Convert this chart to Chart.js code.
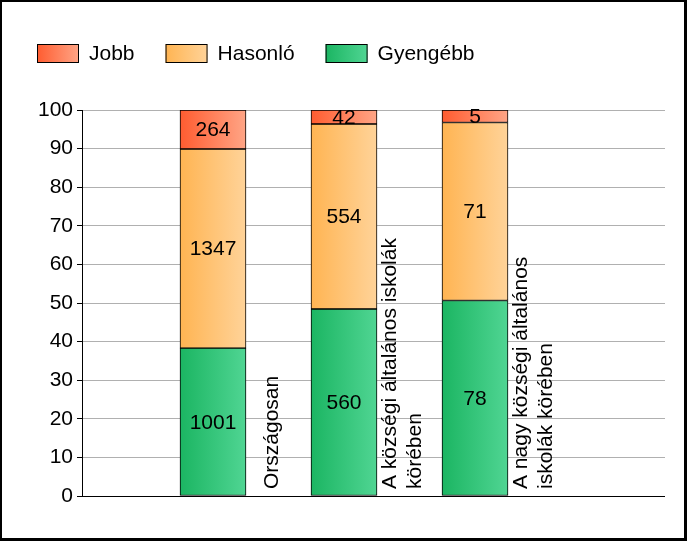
<!DOCTYPE html>
<html>
<head>
<meta charset="utf-8">
<script src="https://cdn.jsdelivr.net/npm/chart.js@4.4.1/dist/chart.umd.min.js"></script>
<style>
  html, body { margin: 0; padding: 0; background: #fff; }
  #wrap { width: 687px; height: 541px; }
</style>
</head>
<body>
<div id="wrap"><canvas id="chart" width="687" height="541"></canvas></div>
<script>
const categories = [
  ["Országosan"],
  ["A községi általános iskolák", "körében"],
  ["A nagy községi általános", "iskolák körében"],
];
const seriesNames = ["Jobb", "Hasonló", "Gyengébb"];
const jobb = [264, 42, 5];
const hasonlo = [1347, 554, 71];
const gyengebb = [1001, 560, 78];
const yMin = 0;
const yMax = 100;
const yStep = 10;

const gradients = {
  Jobb: ["#ff5c30", "#ffa586"],
  Hasonló: ["#ffb452", "#ffd399"],
  Gyengébb: ["#1bb562", "#50d593"],
};

const FONT = '"Liberation Sans", Arial, sans-serif';
const BAR_W = 66;

const totals = categories.map((_, i) => jobb[i] + hasonlo[i] + gyengebb[i]);

function toPoints(counts) {
  return counts.map((v, i) => ({ x: i + 1, y: (v / totals[i]) * 100 }));
}

function barGradient(name) {
  return function (ctx) {
    const chart = ctx.chart;
    const xs = chart.scales.x;
    if (!xs || !chart.chartArea) return gradients[name][0];
    const cx = xs.getPixelForValue(ctx.dataIndex + 1);
    const g = chart.ctx.createLinearGradient(cx - BAR_W / 2, 0, cx + BAR_W / 2, 0);
    g.addColorStop(0, gradients[name][0]);
    g.addColorStop(1, gradients[name][1]);
    return g;
  };
}

function makeDataset(name, counts) {
  return {
    label: name,
    data: toPoints(counts),
    counts: counts,
    backgroundColor: barGradient(name),
    borderColor: "#000",
    borderWidth: 1,
    borderSkipped: false,
    barThickness: BAR_W,
  };
}

const framePlugin = {
  id: "frame",
  beforeDraw(chart) {
    const c = chart.ctx;
    c.save();
    c.fillStyle = "#fff";
    c.fillRect(0, 0, chart.width, chart.height);
    c.restore();
  },
  afterDraw(chart) {
    const c = chart.ctx;
    c.save();
    c.fillStyle = "#000";
    c.fillRect(0, 0, chart.width, 2);
    c.fillRect(0, 0, 2, chart.height);
    c.fillRect(chart.width - 3, 0, 3, chart.height);
    c.fillRect(0, chart.height - 3, chart.width, 3);
    c.restore();
  },
};

const legendPlugin = {
  id: "gradLegend",
  afterDraw(chart) {
    const c = chart.ctx;
    c.save();
    c.font = "21px " + FONT;
    c.textBaseline = "middle";
    c.textAlign = "left";
    let x = 37;
    const top = 44;
    const h = 19;
    seriesNames.forEach((name) => {
      const g = c.createLinearGradient(x, 0, x + 42, 0);
      g.addColorStop(0, gradients[name][0]);
      g.addColorStop(1, gradients[name][1]);
      c.fillStyle = g;
      c.fillRect(x, top, 42, h);
      c.strokeStyle = "#000";
      c.lineWidth = 1;
      c.strokeRect(x + 0.5, top + 0.5, 41, h - 1);
      c.fillStyle = "#000";
      c.fillText(name, x + 52, top + h / 2 + 1);
      x += 52 + c.measureText(name).width + 31;
    });
    c.restore();
  },
};

const labelsPlugin = {
  id: "barLabels",
  afterDatasetsDraw(chart) {
    const c = chart.ctx;
    c.save();
    c.font = "21px " + FONT;
    c.fillStyle = "#000";
    c.textAlign = "center";
    c.textBaseline = "middle";
    chart.data.datasets.forEach((ds, di) => {
      const meta = chart.getDatasetMeta(di);
      meta.data.forEach((el, i) => {
        const p = el.getProps(["x", "y", "base"], true);
        c.fillText(String(ds.counts[i]), p.x, (p.y + p.base) / 2 + 1);
      });
    });

    // category names, rotated, right of each bar
    const xs = chart.scales.x;
    const bottom = chart.chartArea.bottom - 7;
    c.textAlign = "left";
    categories.forEach((lines, i) => {
      const center = xs.getPixelForValue(i + 1) + 59;
      lines.forEach((line, li) => {
        const lx = center + (li - (lines.length - 1) / 2) * 25;
        c.save();
        c.translate(lx, bottom);
        c.rotate(-Math.PI / 2);
        c.fillText(line, 0, 0);
        c.restore();
      });
    });
    c.restore();
  },
};

new Chart(document.getElementById("chart"), {
  type: "bar",
  data: {
    datasets: [
      makeDataset("Gyengébb", gyengebb),
      makeDataset("Hasonló", hasonlo),
      makeDataset("Jobb", jobb),
    ],
  },
  options: {
    responsive: false,
    animation: false,
    layout: { padding: { top: 110, left: 4, right: 22, bottom: 45 } },
    plugins: {
      legend: { display: false },
      tooltip: { enabled: false },
    },
    scales: {
      x: {
        type: "linear",
        display: false,
        stacked: true,
        offset: false,
        grid: { offset: false },
        min: 0,
        max: 583 / 131,
      },
      y: {
        stacked: true,
        min: yMin,
        max: yMax,
        afterFit(scale) {
          scale.width = 78;
        },
        ticks: {
          stepSize: yStep,
          color: "#000",
          padding: 4,
          font: { family: FONT, size: 21 },
        },
        grid: {
          color: (ctx) => (ctx.tick && ctx.tick.value === 0 ? "#000" : "#b0b0b0"),
          tickColor: "#000",
          tickLength: 5,
        },
        border: { color: "#000", width: 1 },
      },
    },
  },
  plugins: [framePlugin, legendPlugin, labelsPlugin],
});
</script>
</body>
</html>
